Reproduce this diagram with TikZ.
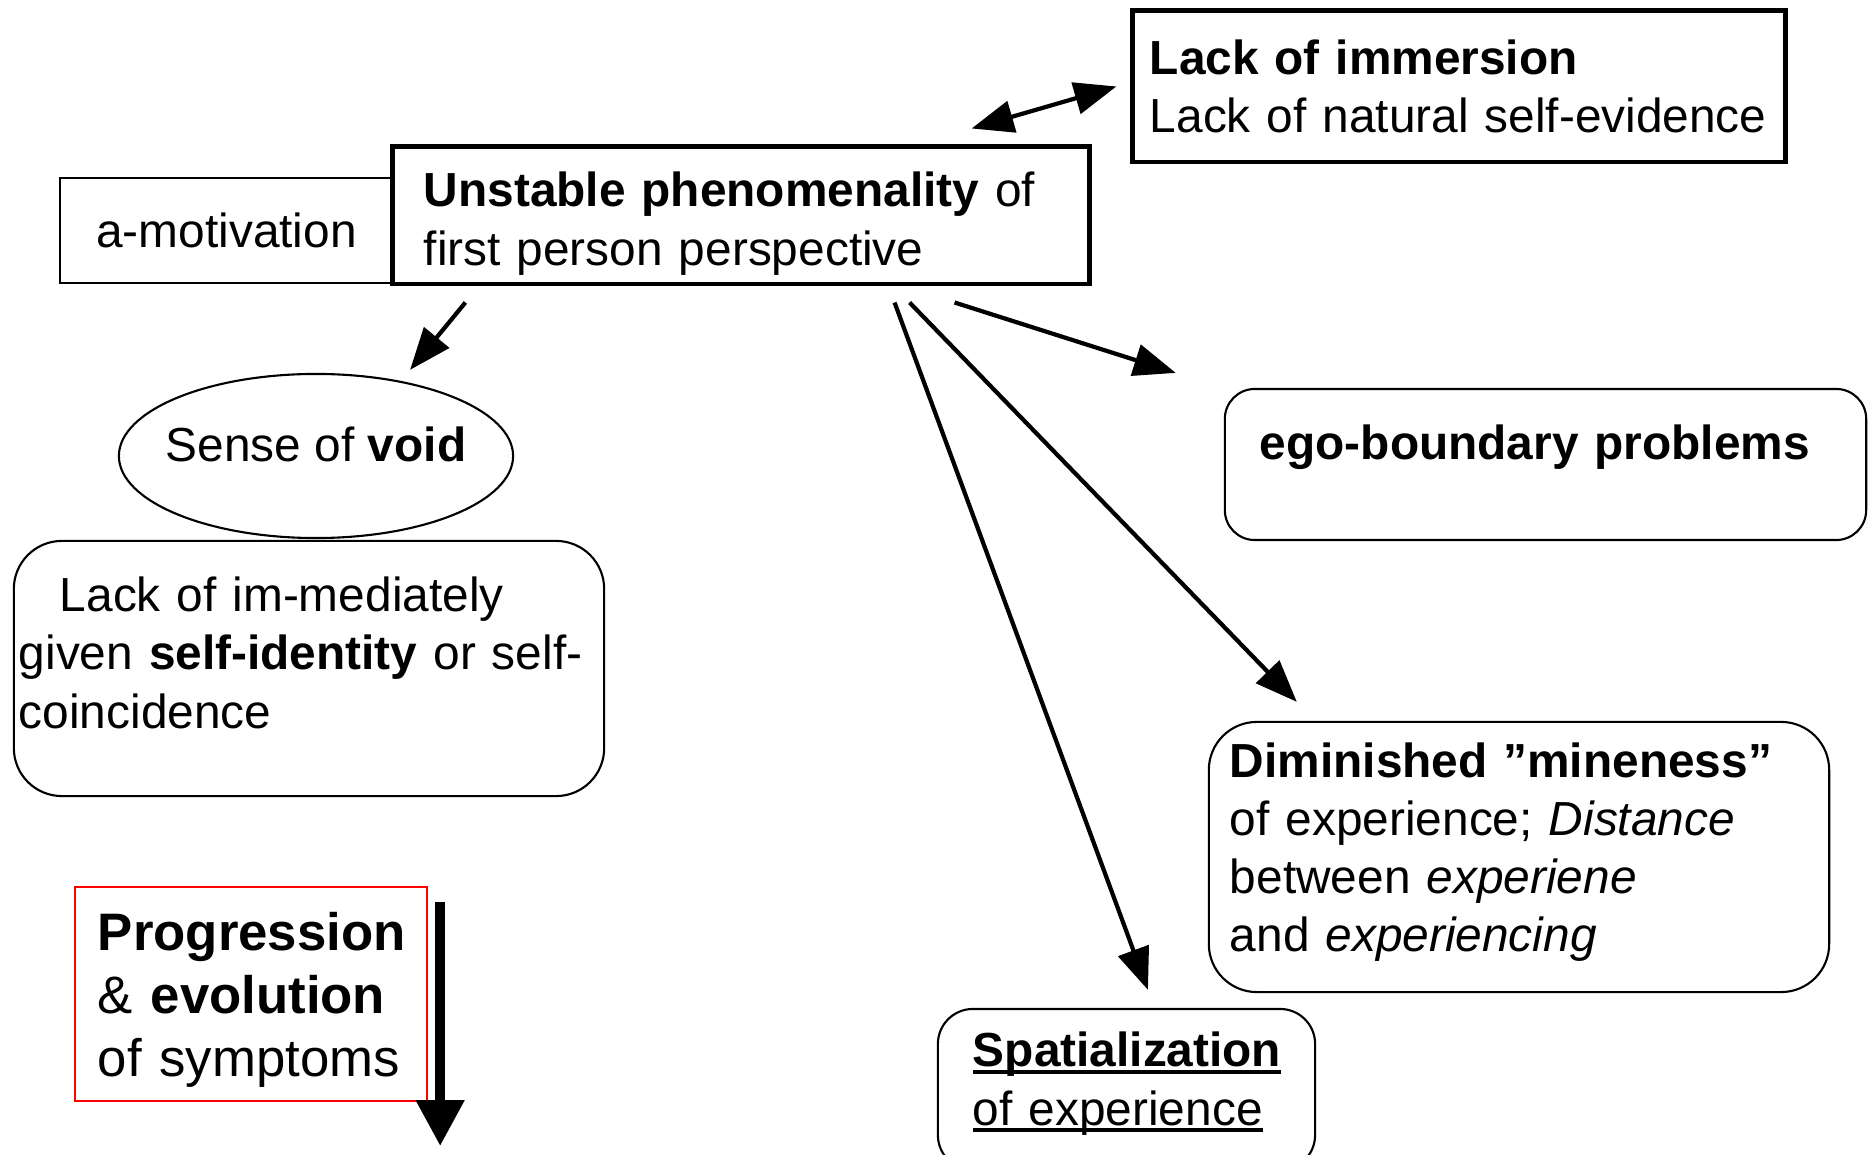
\documentclass[tikz,border=0pt]{standalone}
\usepackage{fontspec}
\setmainfont{Liberation Sans}
\usetikzlibrary{arrows.meta,%
                shapes.geometric}
\newcommand\undl[1]{\leavevmode\setbox0=\hbox{#1}\rlap{\rule[-0.15em]{\wd0}{0.085em}}\box0}

\begin{document}
\begin{tikzpicture}[x=0.01cm,y=-0.01cm,
  every node/.style={font=\fontsize{13.6}{16.5}\selectfont},
  thickbox/.style={draw,fill=white,line width=1.4pt,align=left,inner ysep=0pt},
  thinbox/.style={draw,line width=0.6pt},
  roundbox/.style={draw,line width=0.6pt,rounded corners=0.48cm,align=left,inner ysep=0pt},
  arr/.style={line width=1.2pt,-{Triangle[length=0.42cm,width=0.32cm]}}]
\useasboundingbox (0,0) rectangle (1872,1155);
%\draw[help lines] (0,0) grid (1872,1155);
\node[thinbox,minimum width=3.33cm,minimum height=1.05cm] (amot) at (226.5,230.5) {a-motivation};
\node[thickbox,text width=6.34cm,inner xsep=0.31cm,minimum height=1.37cm,text height=0.51cm,text depth=0.68cm] (unstable) at (741,215.5) {\textbf{Unstable phenomenality} of\\first person perspective};
\node[thickbox,text width=6.18cm,inner xsep=0.17cm,minimum height=1.51cm] (immersion) at (1459,86.5) {\textbf{Lack of immersion}\\Lack of natural self-evidence};
\node[draw,ellipse,line width=0.6pt,minimum width=3.94cm,minimum height=1.64cm,inner ysep=0pt,inner xsep=-0.11cm,text height=0.35cm,text depth=0.25cm] (void) at (316,456) {Sense of \textbf{void}};
\node[roundbox,text width=5.80cm,inner xsep=0.05cm,minimum height=2.55cm,text height=0.35cm,text depth=1.48cm] (selfid) at (309,668.5) {\hspace*{0.41cm}Lack of im-mediately\\given \textbf{self-identity} or self-\\coincidence};
\node[roundbox,rounded corners=0.3cm,text width=5.71cm,inner xsep=0.35cm,minimum height=1.51cm,text height=0.35cm,text depth=0.45cm] (egob) at (1545.5,464.5) {\textbf{ego-boundary problems}};
\node[roundbox,text width=5.78cm,inner xsep=0.21cm,minimum height=2.70cm,text height=0.35cm,text depth=1.94cm] (dimin) at (1519,857) {\textbf{Diminished ”mineness”}\\of experience; \textit{Distance}\\between \textit{experiene}\\and \textit{experiencing}};
\node[roundbox,rounded corners=0.35cm,text width=3.07cm,inner xsep=0.35cm,minimum height=1.61cm,text height=0.35cm,text depth=0.80cm] (spatial) at (1126.5,1089.5) {\undl{\textbf{Spatialization}}\\\undl{of experience}};
\node[draw=red,line width=0.6pt,align=left,text width=3.06cm,inner xsep=0.23cm,minimum height=2.14cm,text height=0.505cm,text depth=1.37cm,font=\fontsize{15}{17.9}\selectfont] (prog) at (251,994) {\textbf{Progression}\\\& \textbf{evolution}\\of symptoms};
\coordinate (progtop) at ([xshift=0.12cm,yshift=-0.16cm]prog.north east);
\coordinate (progend) at ([xshift=0.12cm,yshift=-0.44cm]prog.south east);
\draw[line width=3pt,-{Triangle[length=0.46cm,width=0.46cm]}] (progtop) -- (progend);
\draw[arr] ([xshift=0.75cm,yshift=-0.16cm]unstable.south west) -- ([xshift=0.94cm,yshift=0.03cm]void.north);
\draw[arr] ([xshift=-1.37cm,yshift=-0.16cm]unstable.south east) -- ([xshift=-0.48cm,yshift=0.15cm]egob.north west);
\draw[arr] ([xshift=-1.82cm,yshift=-0.16cm]unstable.south east) -- ([xshift=0.89cm,yshift=0.19cm]dimin.north west);
\draw[arr] ([xshift=-1.97cm,yshift=-0.16cm]unstable.south east) -- ([xshift=2.11cm,yshift=0.18cm]spatial.north west);
\draw[line width=1.2pt,{Triangle[length=0.42cm,width=0.32cm]}-{Triangle[length=0.42cm,width=0.32cm]}] ([xshift=-1.20cm,yshift=0.16cm]unstable.north east) -- ([xshift=-0.14cm]immersion.west);
\end{tikzpicture}
\end{document}
